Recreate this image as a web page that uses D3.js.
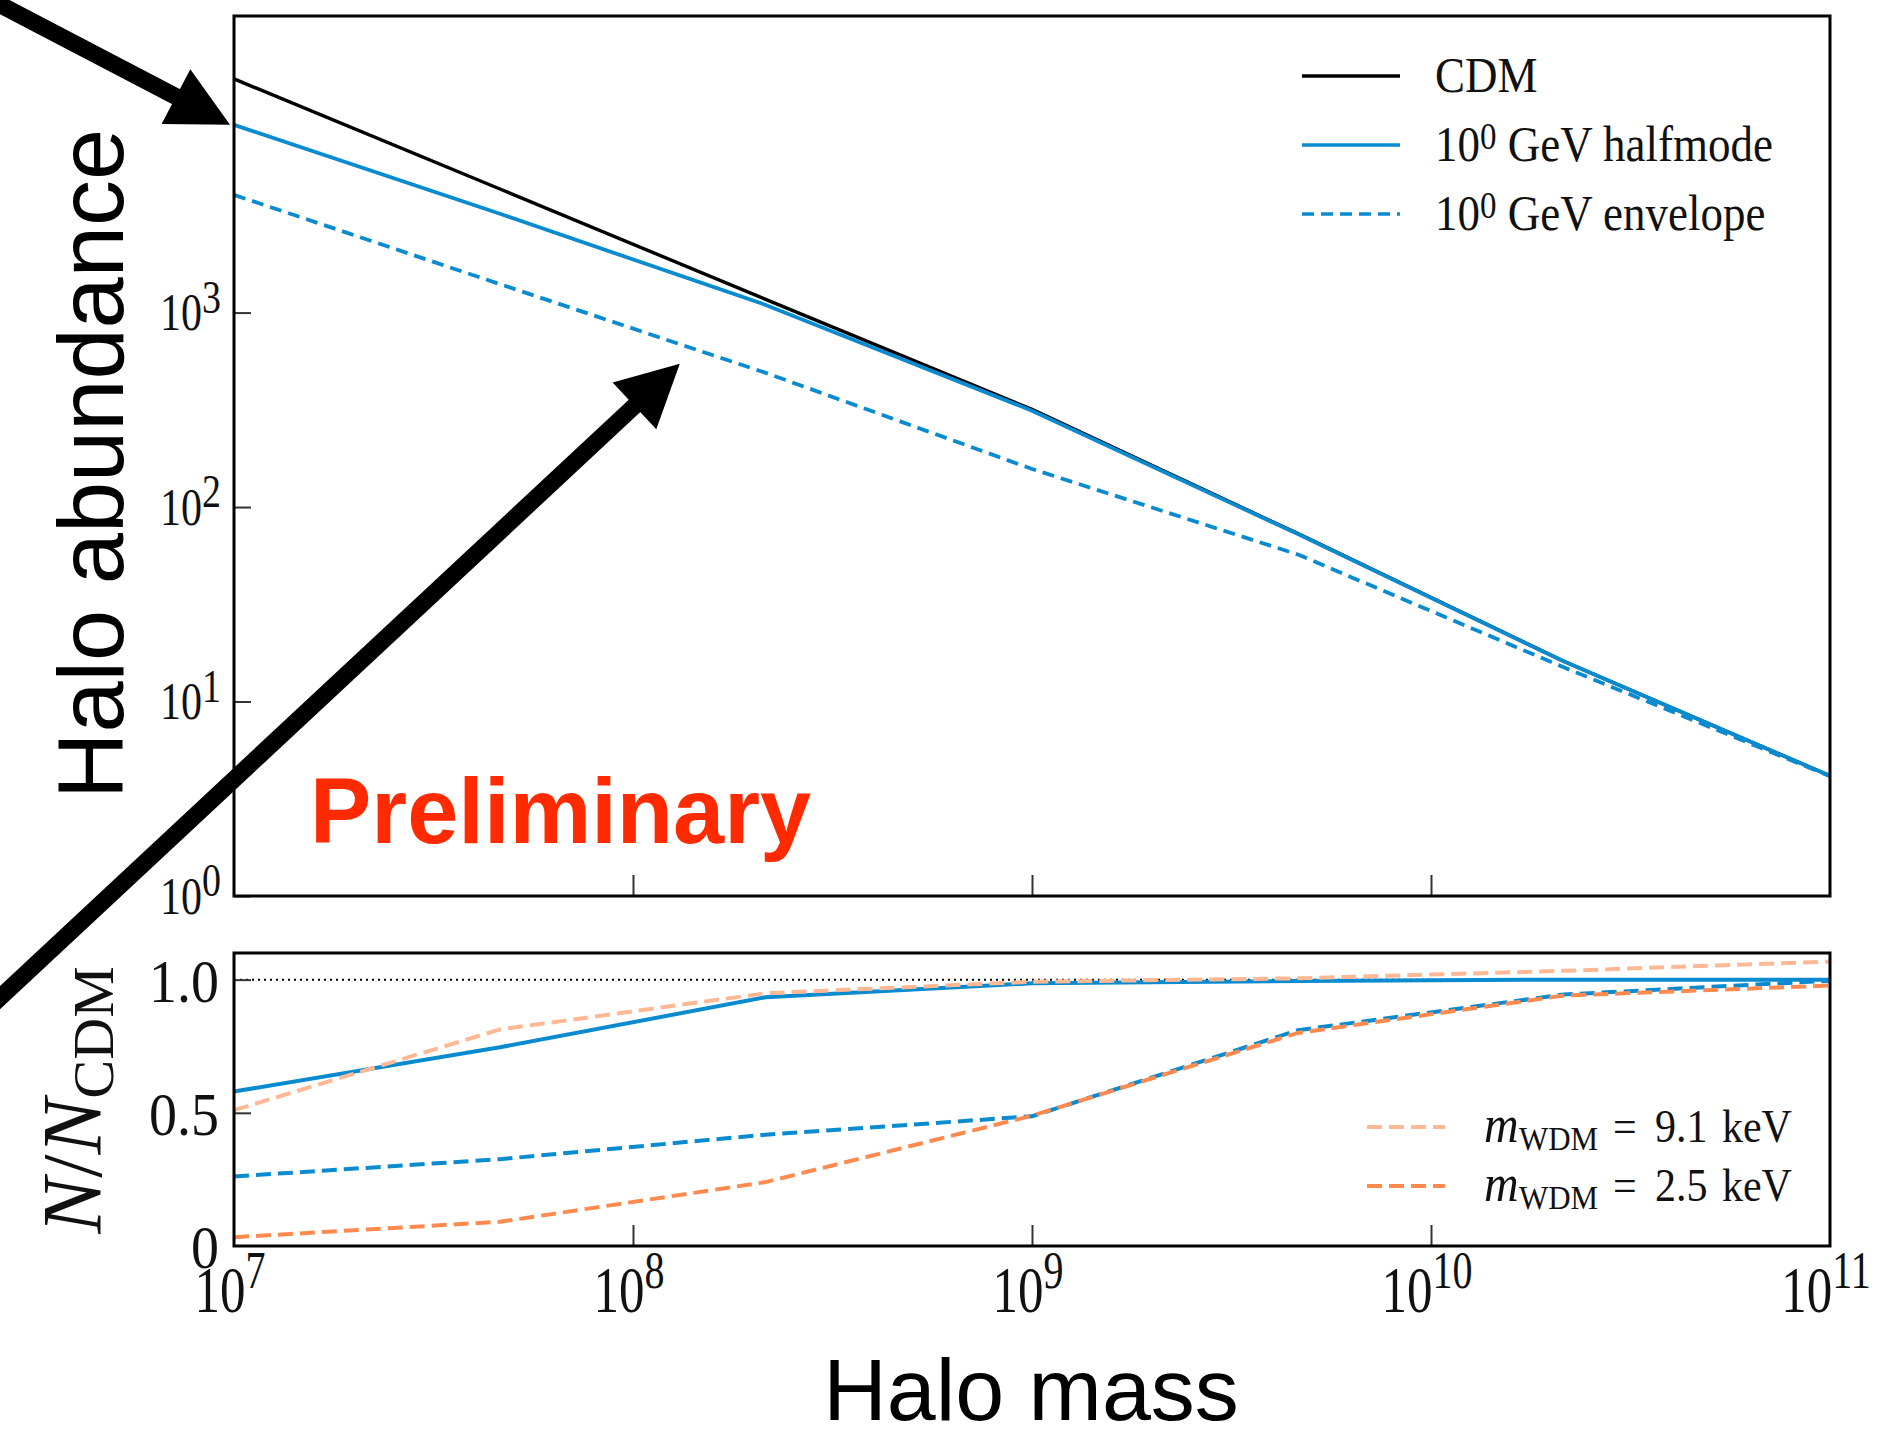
<!DOCTYPE html>
<html>
<head>
<meta charset="utf-8">
<script src="https://cdn.jsdelivr.net/npm/d3@7"></script>
<style>
body { margin: 0; background: #fff; }
svg { display: block; }
</style>
</head>
<body>
<svg id="chart" width="1885" height="1432"></svg>
<script>
var svg = d3.select('#chart');

// halo mass bins (Msun)
var mass = [1e7, 4.64e7, 2.15e8, 1e9, 4.64e9, 2.15e10, 1e11];

// top panel: halo abundance
var cdm = [15900, 4320, 1170, 318, 73, 16.1, 4.15];
var halfmode = [9230, 3220, 1095, 313, 72.6, 16.1, 4.15];
var envelope = [4030, 1400, 490, 157, 57, 15.0, 4.13];

// bottom panel: N / N_CDM
var ratioHalfmode = [0.58, 0.746, 0.934, 0.986, 0.995, 1.0, 1.0];
var ratioEnvelope = [0.261, 0.326, 0.418, 0.487, 0.81, 0.944, 0.996];
var ratioWdm91 = [0.51, 0.813, 0.949, 0.992, 1.005, 1.033, 1.068];
var ratioWdm25 = [0.033, 0.091, 0.24, 0.489, 0.80, 0.94, 0.978];

// ticks
var abundTicks = [1, 10, 100, 1000];
var abundTickPow = ['0', '1', '2', '3'];
var massTicks = [1e7, 1e8, 1e9, 1e10, 1e11];
var massTickPow = ['7', '8', '9', '10', '11'];
var ratioTicks = [0, 0.5, 1.0];
var ratioTickLabels = ['0', '0.5', '1.0'];

// legend entries
var topLegendLabels = ['CDM', ' GeV halfmode', ' GeV envelope'];
var topLegendPow = [null, '0', '0'];
var wdmMasses = ['9.1', '2.5'];

// what the two big arrows point at
var arrowTargets = [
  {mass: 1e7, n: halfmode[0], dx: -4, angle: 27.6, headLen: 61, headW: 62},
  {mass: 1.31e8, n: 546, dx: 0, angle: -43, headLen: 62, headW: 64}
];

var blue = '#0a8bd0';
var peach = '#ffb894';
var orange = '#ff8a4f';
var serif = '"Liberation Serif", "DejaVu Serif", serif';
var sans = '"Liberation Sans", Arial, sans-serif';

var left = 234, right = 1830;
var top1 = 16, bot1 = 896;
var top2 = 953, bot2 = 1246;

var x = d3.scaleLog().domain([1e7, 1e11]).range([left, right]);
var yTop = d3.scaleLog().domain([1, Math.pow(10, 4.525)]).range([bot1, top1]);
var yBot = d3.scaleLinear().domain([0, 1.1]).range([bot2, top2]);

var lineTop = d3.line().x(function(d, i) { return x(mass[i]); }).y(function(d) { return yTop(d); });
var lineBot = d3.line().x(function(d, i) { return x(mass[i]); }).y(function(d) { return yBot(d); });

var drawLine = function(gen, data, color, width, dash) {
  svg.append('path').attr('d', gen(data))
    .attr('fill', 'none').attr('stroke', color).attr('stroke-width', width)
    .attr('stroke-dasharray', dash || null);
};

// ---- top panel lines
drawLine(lineTop, cdm, '#000', 3.4);
drawLine(lineTop, halfmode, blue, 3.8);
drawLine(lineTop, envelope, blue, 3.8, '12,7');

// ---- bottom panel lines
svg.append('line').attr('x1', left).attr('x2', right)
  .attr('y1', yBot(1)).attr('y2', yBot(1))
  .attr('stroke', '#000').attr('stroke-width', 2).attr('stroke-dasharray', '2,4');
drawLine(lineBot, ratioHalfmode, blue, 4);
drawLine(lineBot, ratioEnvelope, blue, 4, '15,7');
drawLine(lineBot, ratioWdm91, peach, 4, '15,7');
drawLine(lineBot, ratioWdm25, orange, 4, '15,7');

// ---- ticks (inward)
var styleTicks = function(g) {
  g.select('.domain').remove();
  g.selectAll('.tick line').attr('stroke', '#333').attr('stroke-width', 2);
};
svg.append('g').attr('transform', 'translate(0,' + bot1 + ')')
  .call(d3.axisBottom(x).tickValues([1e8, 1e9, 1e10]).tickSize(-21).tickFormat(''))
  .call(styleTicks);
svg.append('g').attr('transform', 'translate(0,' + bot2 + ')')
  .call(d3.axisBottom(x).tickValues([1e8, 1e9, 1e10]).tickSize(-21).tickFormat(''))
  .call(styleTicks);
svg.append('g').attr('transform', 'translate(' + left + ',0)')
  .call(d3.axisLeft(yTop).tickValues(abundTicks).tickSize(-17).tickFormat(''))
  .call(styleTicks);
svg.append('g').attr('transform', 'translate(' + left + ',0)')
  .call(d3.axisLeft(yBot).tickValues([0.5, 1.0]).tickSize(-17).tickFormat(''))
  .call(styleTicks);

// ---- frames
svg.append('rect').attr('x', left).attr('y', top1).attr('width', right - left).attr('height', bot1 - top1)
  .attr('fill', 'none').attr('stroke', '#000').attr('stroke-width', 3);
svg.append('rect').attr('x', left).attr('y', top2).attr('width', right - left).attr('height', bot2 - top2)
  .attr('fill', 'none').attr('stroke', '#000').attr('stroke-width', 3);

// power-of-ten label, stretched tall like the original figure
var powLabel = function(px, py, pow, size, supSize, supDy, stretch, anchor) {
  var g = svg.append('g').attr('transform', 'translate(' + px + ',' + py + ') scale(1,' + stretch + ')');
  var t = g.append('text').attr('font-family', serif).attr('font-size', size)
    .attr('text-anchor', anchor).attr('fill', '#111');
  t.append('tspan').text('10');
  t.append('tspan').attr('font-size', supSize).attr('dy', supDy).text(pow);
};

abundTicks.forEach(function(v, i) {
  powLabel(221, yTop(v) + 17.5, abundTickPow[i], 42, 38, -14, 1.24, 'end');
});
massTicks.forEach(function(v, i) {
  powLabel(x(v) - 4, 1312, massTickPow[i], 51, 40, -18.5, 1.3, 'middle');
});
ratioTicks.forEach(function(v, i) {
  svg.append('g').attr('transform', 'translate(219,' + (yBot(v) + 22) + ') scale(1,1.11)')
    .append('text').attr('font-family', serif).attr('font-size', 56)
    .attr('text-anchor', 'end').attr('fill', '#111').text(ratioTickLabels[i]);
});

// ---- top legend
var topLegendColor = ['#000', blue, blue];
var topLegendDash = [null, null, '12,7'];
topLegendLabels.forEach(function(label, i) {
  var ly = 76 + i * 69;
  svg.append('line').attr('x1', 1302).attr('x2', 1400).attr('y1', ly).attr('y2', ly)
    .attr('stroke', topLegendColor[i]).attr('stroke-width', 3.6).attr('stroke-dasharray', topLegendDash[i]);
  var t = svg.append('g').attr('transform', 'translate(1435,' + (ly + 16) + ') scale(1,1.12)')
    .append('text').attr('font-family', serif).attr('font-size', 45).attr('fill', '#111');
  if (topLegendPow[i]) {
    t.append('tspan').text('10');
    t.append('tspan').attr('font-size', 33).attr('dy', -11).text(topLegendPow[i]);
    t.append('tspan').attr('dy', 11).text(label);
  } else {
    t.text(label);
  }
});

// ---- bottom legend
var wdmColor = [peach, orange];
wdmMasses.forEach(function(m, i) {
  var ly = 1127 + i * 59;
  svg.append('line').attr('x1', 1367).attr('x2', 1445).attr('y1', ly).attr('y2', ly)
    .attr('stroke', wdmColor[i]).attr('stroke-width', 4).attr('stroke-dasharray', '15,7');
  var t = svg.append('g').attr('transform', 'translate(1484,' + (ly + 15) + ') scale(1,1.1)')
    .append('text').attr('font-family', serif).attr('font-size', 42).attr('fill', '#111');
  t.append('tspan').attr('x', 0).attr('font-style', 'italic').attr('font-size', 48).text('m');
  t.append('tspan').attr('x', 35).attr('font-size', 31).attr('dy', 7).text('WDM');
  t.append('tspan').attr('x', 129).attr('dy', -7).text('=');
  t.append('tspan').attr('x', 171).text(m);
  t.append('tspan').attr('x', 238).text('keV');
});

// ---- axis titles
svg.append('text').attr('transform', 'translate(123,464) rotate(-90)')
  .attr('font-family', sans).attr('font-size', 92).attr('text-anchor', 'middle')
  .attr('fill', '#000').text('Halo abundance');
svg.append('text').attr('x', 1031).attr('y', 1420)
  .attr('font-family', sans).attr('font-size', 88).attr('text-anchor', 'middle')
  .attr('fill', '#000').text('Halo mass');

var ny = svg.append('text').attr('transform', 'translate(101,1100) rotate(-90)')
  .attr('font-family', serif).attr('font-size', 84).attr('text-anchor', 'middle').attr('fill', '#111');
ny.append('tspan').attr('font-style', 'italic').text('N');
ny.append('tspan').text('/');
ny.append('tspan').attr('font-style', 'italic').text('N');
ny.append('tspan').attr('font-size', 58).attr('dy', 12).text('CDM');

// ---- preliminary stamp
svg.append('text').attr('x', 310).attr('y', 843)
  .attr('font-family', sans).attr('font-size', 92).attr('font-weight', 'bold')
  .attr('fill', '#ff2a00').text('Preliminary');

// ---- big arrows
arrowTargets.forEach(function(a) {
  var tx = x(a.mass) + a.dx, ty = yTop(a.n);
  var rad = a.angle * Math.PI / 180;
  var ux = Math.cos(rad), uy = Math.sin(rad);
  var nx = -uy, ny2 = ux;
  var bx = tx - a.headLen * ux, by = ty - a.headLen * uy;
  // shaft runs back off the page
  var len = 1200;
  svg.append('line').attr('x1', bx + 2 * ux).attr('y1', by + 2 * uy)
    .attr('x2', bx - len * ux).attr('y2', by - len * uy)
    .attr('stroke', '#000').attr('stroke-width', 17);
  svg.append('path')
    .attr('d', 'M' + tx + ',' + ty +
      'L' + (bx + nx * a.headW / 2) + ',' + (by + ny2 * a.headW / 2) +
      'L' + (bx - nx * a.headW / 2) + ',' + (by - ny2 * a.headW / 2) + 'Z')
    .attr('fill', '#000');
});
</script>
</body>
</html>
